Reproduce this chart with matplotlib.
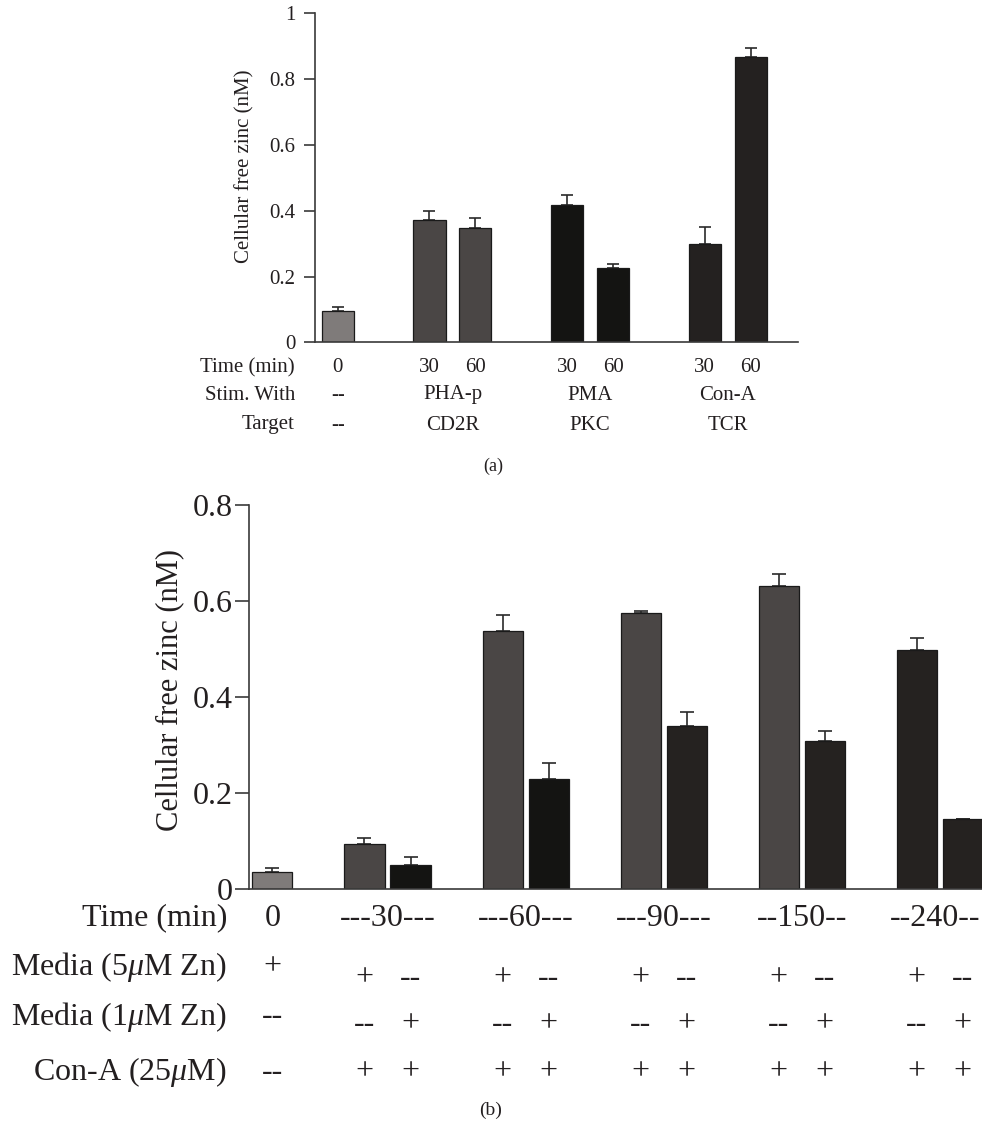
import matplotlib
matplotlib.use("Agg")
import matplotlib.pyplot as plt
import matplotlib.transforms as mtransforms

plt.rcParams['font.family'] = ['Liberation Serif', 'DejaVu Serif']
plt.rcParams['mathtext.fontset'] = 'custom'
plt.rcParams['mathtext.it'] = 'Liberation Serif:italic'
plt.rcParams['mathtext.rm'] = 'Liberation Serif'

TXT = '#231f20'
AXC = '#3a3a3a'

# ---- panel (a) data ----
a_pos = [0, 2, 3, 5, 6, 8, 9]
a_vals = [0.095, 0.372, 0.346, 0.417, 0.225, 0.298, 0.867]
a_err = [0.011, 0.026, 0.031, 0.031, 0.014, 0.052, 0.028]
a_colors = ['#7f7b7a', '#4a4645', '#4a4645', '#141412', '#141412', '#242120', '#242120']
a_time = ['0', '30', '60', '30', '60', '30', '60']
a_group_pos = [0, 2.5, 5.5, 8.5]
a_stim = ['--', 'PHA-p', 'PMA', 'Con-A']
a_target = ['--', 'CD2R', 'PKC', 'TCR']
a_row_names = ['Time (min)', 'Stim. With', 'Target']

# ---- panel (b) data ----
b_pos = [0, 2, 3, 5, 6, 8, 9, 11, 12, 14, 15]
b_vals = [0.034, 0.094, 0.0495, 0.538, 0.229, 0.575, 0.339, 0.632, 0.309, 0.499, 0.146]
b_err = [0.009, 0.012, 0.016, 0.033, 0.033, 0.004, 0.030, 0.025, 0.021, 0.025, 0.0]
b_colors = ['#7f7b7a', '#4a4645', '#141412', '#4a4645', '#141412', '#4a4645',
            '#252220', '#4a4645', '#252220', '#252220', '#252220']
b_time_pos = [0, 2.5, 5.5, 8.5, 11.5, 14.5]
b_time = ['0', '---30---', '---60---', '---90---', '--150--', '--240--']
b_media5 = ['+', '+', '--', '+', '--', '+', '--', '+', '--', '+', '--']
b_media1 = ['--', '--', '+', '--', '+', '--', '+', '--', '+', '--', '+']
b_cona = ['--', '+', '+', '+', '+', '+', '+', '+', '+', '+', '+']
b_row_names = ['Time (min)', r'Media (5$\mathit{\mu}$M Zn)',
               r'Media (1$\mathit{\mu}$M Zn)', r'Con-A (25$\mathit{\mu}$M)']

W, H = 982, 1128
fig = plt.figure(figsize=(W / 100, H / 100), dpi=100)


def fy(px):
    return 1 - px / H


def style_axes(ax, tick_len, pad, size):
    for s in ['top', 'right']:
        ax.spines[s].set_visible(False)
    for s in ['left', 'bottom']:
        ax.spines[s].set_color(AXC)
        ax.spines[s].set_linewidth(1.2)
    ax.tick_params(axis='y', length=tick_len, width=1.2, color=AXC, pad=pad,
                   labelsize=size, labelcolor=TXT)
    ax.tick_params(axis='x', length=0, labelbottom=False)


# ---------------- panel (a) ----------------
ax1 = fig.add_axes([315 / W, fy(342.3), (798 - 315) / W, 329 / H])
ax1.bar(a_pos, a_vals, width=0.7, color=a_colors, edgecolor='#1a1a1a', linewidth=0.9, zorder=2)
ax1.errorbar(a_pos, a_vals, yerr=[[0] * len(a_err), a_err], fmt='none',
             ecolor='#2a2a2a', elinewidth=1.2, capsize=4.5, capthick=1.2, zorder=1)
ax1.set_xlim(-0.495, 10.03)
ax1.set_ylim(0, 1)
ax1.set_yticks([0, 0.2, 0.4, 0.6, 0.8, 1])
ax1.set_yticklabels(['0', '0.2', '0.4', '0.6', '0.8', '1'])
style_axes(ax1, 8, 6, 15)
fig.text(245 / W, fy(166), 'Cellular free zinc (nM)', rotation=90, ha='center', va='center',
         fontsize=15, color=TXT)

tr1 = mtransforms.blended_transform_factory(ax1.transData, fig.transFigure)
rows_a_y = [368, 395, 425]
for name, y in zip(a_row_names, rows_a_y):
    fig.text(295 / W, fy(y), name, ha='right', va='center', fontsize=15, color=TXT)
for x, t in zip(a_pos, a_time):
    ax1.text(x, fy(rows_a_y[0]), t, transform=tr1, ha='center', va='center', fontsize=15, color=TXT)
for x, s, t in zip(a_group_pos, a_stim, a_target):
    ax1.text(x, fy(rows_a_y[1]), s, transform=tr1, ha='center', va='center', fontsize=15, color=TXT)
    ax1.text(x, fy(rows_a_y[2]), t, transform=tr1, ha='center', va='center', fontsize=15, color=TXT)
fig.text(493 / W, fy(466), '(a)', ha='center', va='center', fontsize=13, color=TXT)

# ---------------- panel (b) ----------------
ax2 = fig.add_axes([249 / W, fy(888.7), (W - 249) / W, 383.4 / H])
ax2.bar(b_pos, b_vals, width=0.87, color=b_colors, edgecolor='#1a1a1a', linewidth=0.9, zorder=2)
ax2.errorbar(b_pos, b_vals, yerr=[[0] * len(b_err), b_err], fmt='none',
             ecolor='#2a2a2a', elinewidth=1.2, capsize=5, capthick=1.2, zorder=1)
ax2.set_xlim(-0.51, 15.42)
ax2.set_ylim(0, 0.8)
ax2.set_yticks([0, 0.2, 0.4, 0.6, 0.8])
ax2.set_yticklabels(['0', '0.2', '0.4', '0.6', '0.8'])
style_axes(ax2, 10, 2, 23)
fig.text(170 / W, fy(690), 'Cellular free zinc (nM)', rotation=90, ha='center', va='center',
         fontsize=22, color=TXT)

tr2 = mtransforms.blended_transform_factory(ax2.transData, fig.transFigure)
rows_b_y = [918, 967, 1017, 1072]
for name, y in zip(b_row_names, rows_b_y):
    fig.text(227 / W, fy(y), name, ha='right', va='center', fontsize=23, color=TXT)
for x, t in zip(b_time_pos[:-1], b_time[:-1]):
    ax2.text(x, fy(918), t, transform=tr2, ha='center', va='center', fontsize=23, color=TXT)
# last time label sits against the right edge
fig.text(980 / W, fy(918), b_time[-1], ha='right', va='center', fontsize=23, color=TXT)
for i, (x, m5, m1, c) in enumerate(zip(b_pos, b_media5, b_media1, b_cona)):
    y5 = 967 if i == 0 else 978
    y1 = 1017 if i == 0 else 1024
    ax2.text(x, fy(y5), m5, transform=tr2, ha='center', va='center', fontsize=23, color=TXT)
    ax2.text(x, fy(y1), m1, transform=tr2, ha='center', va='center', fontsize=23, color=TXT)
    ax2.text(x, fy(1072), c, transform=tr2, ha='center', va='center', fontsize=23, color=TXT)
fig.text(491 / W, fy(1110), '(b)', ha='center', va='center', fontsize=14, color=TXT)

fig.savefig('out.png', dpi=100, facecolor='white')
